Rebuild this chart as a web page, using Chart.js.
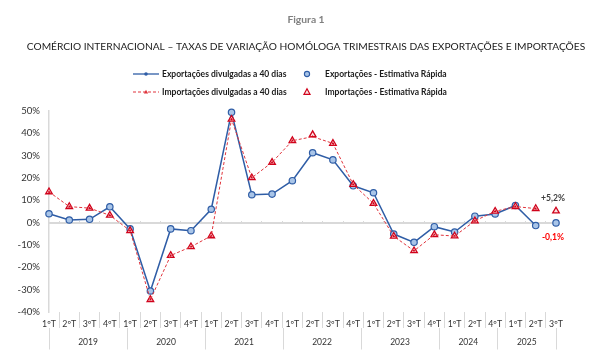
<!DOCTYPE html>
<html><head><meta charset="utf-8">
<script src="https://cdn.jsdelivr.net/npm/chart.js@4.4.1/dist/chart.umd.min.js"></script>
<style>html,body{margin:0;padding:0;background:#fff}#wrap{width:612px;height:356px;position:relative}</style>
</head><body><div id="wrap"><canvas id="c"></canvas></div>
<script>
const quarters = ['1ºT','2ºT','3ºT','4ºT','1ºT','2ºT','3ºT','4ºT','1ºT','2ºT','3ºT','4ºT','1ºT','2ºT','3ºT','4ºT','1ºT','2ºT','3ºT','4ºT','1ºT','2ºT','4ºT','1ºT','2ºT','3ºT'];
const years = ['2019','2020','2021','2022','2023','2024','2025'];
const quartersPerYear = [4,4,4,4,4,3,3];
const yTicks = [-40,-30,-20,-10,0,10,20,30,40,50];

const exports40 = [4.0,1.2,1.5,7.1, -2.8,-30.6,-2.8,-3.6, 6.0,49.4,12.5,12.8, 18.8,31.3,28.1,16.5, 13.4,-5.1,-8.8,-1.8, -4.2,2.9,3.9, 7.7,-1.3,null];
const exportsER = [4.0,1.2,1.5,7.1, -2.8,-30.6,-2.8,-3.6, 6.0,49.4,12.5,12.8, 18.8,31.3,28.1,16.5, 13.4,-5.1,-8.8,-1.8, -4.2,2.9,3.9, 7.7,-1.3,-0.1];
const imports40 = [13.8,7.2,6.5,3.3, -3.6,-34.5,-14.7,-10.8, -5.9,46.3,20.1,27.0, 36.7,38.5,35.5,17.1, 8.6,-6.1,-12.6,-5.4, -6.0,0.8,5.1, 7.2,6.3,null];
const importsER = [13.8,7.2,6.5,3.3, -3.6,-34.5,-14.7,-10.8, -5.9,46.3,20.1,27.0, 36.7,39.4,35.5,17.1, 8.6,-6.1,-12.6,-5.4, -6.0,0.8,5.1, 7.2,6.3,5.2];

const BLUE = '#2f5da6', BLUE_FILL = '#a9c5e8', RED = '#e0343c', RED_DARK = '#d0021b', RED_FILL = '#fbe0e0', GRID = '#d9d9d9';
const FONT = 'Lato, "Open Sans", sans-serif';
Chart.defaults.font.family = FONT;
Chart.defaults.color = '#333';

// year group boundaries & centres for the second axis
const yearTicks = [];
let b = -0.5;
yearTicks.push({value: b});
quartersPerYear.forEach((n, i) => {
  yearTicks.push({value: b + n / 2, year: years[i]});
  b += n;
  yearTicks.push({value: b});
});

function fmt(v) { return (v > 0 ? '+' : '') + v.toFixed(1).replace('.', ',') + '%'; }

const legendPlugin = {
  id: 'legend2',
  afterDraw(chart) {
    const ctx = chart.ctx, ds = chart.data.datasets;
    ctx.save();
    ctx.font = 'bold 8.5px ' + FONT;
    ctx.textBaseline = 'middle';
    const rows = [74, 92];
    // row 1 : exports
    let y = rows[0];
    ctx.strokeStyle = BLUE; ctx.lineWidth = 1.3; ctx.setLineDash([]);
    ctx.beginPath(); ctx.moveTo(133, y); ctx.lineTo(159, y); ctx.stroke();
    ctx.fillStyle = BLUE; ctx.beginPath(); ctx.arc(146, y, 1.8, 0, Math.PI * 2); ctx.fill();
    ctx.fillStyle = '#1a1a1a'; ctx.fillText(ds[0].label, 162, y);
    ctx.fillStyle = BLUE_FILL; ctx.strokeStyle = BLUE; ctx.lineWidth = 1.1;
    ctx.beginPath(); ctx.arc(307, y, 2.6, 0, Math.PI * 2); ctx.fill(); ctx.stroke();
    ctx.fillStyle = '#1a1a1a'; ctx.fillText(ds[1].label, 325, y);
    // row 2 : imports
    y = rows[1];
    ctx.strokeStyle = RED; ctx.lineWidth = 1; ctx.setLineDash([3, 2]);
    ctx.beginPath(); ctx.moveTo(133, y); ctx.lineTo(159, y); ctx.stroke();
    ctx.setLineDash([]);
    ctx.fillStyle = RED;
    ctx.beginPath(); ctx.moveTo(146, y - 2.2); ctx.lineTo(148.1, y + 1.6); ctx.lineTo(143.9, y + 1.6); ctx.closePath(); ctx.fill();
    ctx.fillStyle = '#1a1a1a'; ctx.fillText(ds[2].label, 162, y);
    ctx.fillStyle = RED_FILL; ctx.strokeStyle = RED_DARK; ctx.lineWidth = 1.2;
    ctx.beginPath(); ctx.moveTo(307, y - 3.2); ctx.lineTo(310, y + 2.3); ctx.lineTo(304, y + 2.3); ctx.closePath(); ctx.fill(); ctx.stroke();
    ctx.fillStyle = '#1a1a1a'; ctx.fillText(ds[3].label, 325, y);
    ctx.restore();
  }
};

const lastLabelPlugin = {
  id: 'lastLabels',
  afterDatasetsDraw(chart) {
    const ctx = chart.ctx, xs = chart.scales.x, ys = chart.scales.y;
    const i = quarters.length - 1;
    ctx.save();
    ctx.font = 'bold 8.6px ' + FONT;
    ctx.textAlign = 'center'; ctx.textBaseline = 'middle';
    const px = xs.getPixelForValue(i);
    ctx.fillStyle = '#404040';
    ctx.fillText(fmt(importsER[i]), px - 3, ys.getPixelForValue(importsER[i]) - 13);
    ctx.fillStyle = '#ff0000';
    ctx.fillText(fmt(exportsER[i]), px - 3, ys.getPixelForValue(exportsER[i]) + 14);
    ctx.restore();
  }
};

new Chart(document.getElementById('c'), {
  type: 'line',
  data: {
    labels: quarters,
    datasets: [
      { label: 'Exportações divulgadas a 40 dias', data: exports40, order: 3, clip: false,
        borderColor: BLUE, backgroundColor: BLUE, borderWidth: 1.5, pointRadius: 1.8, pointBorderWidth: 0,
        pointBackgroundColor: BLUE, tension: 0, spanGaps: false },
      { label: 'Exportações - Estimativa Rápida', data: exportsER, order: 2, showLine: false, clip: false,
        pointStyle: 'circle', pointRadius: 3.2, pointBorderWidth: 1.2, pointBorderColor: BLUE, pointBackgroundColor: BLUE_FILL,
        borderColor: BLUE, backgroundColor: BLUE_FILL },
      { label: 'Importações divulgadas a 40 dias', data: imports40, order: 0, clip: false,
        borderColor: RED, backgroundColor: RED, borderWidth: 1, borderDash: [3, 2], pointStyle: 'triangle',
        pointRadius: 1.6, pointBorderWidth: 0, pointBackgroundColor: RED_DARK, tension: 0 },
      { label: 'Importações - Estimativa Rápida', data: importsER, order: 1, showLine: false, clip: false,
        pointStyle: 'triangle', pointRadius: 3.8, pointBorderWidth: 1.3, pointBorderColor: RED_DARK, pointBackgroundColor: RED_FILL,
        borderColor: RED_DARK, backgroundColor: RED_FILL }
    ]
  },
  options: {
    responsive: true, maintainAspectRatio: false, animation: false,
    layout: { padding: { left: 0, right: 0, top: 0, bottom: 6 } },
    plugins: {
      legend: { display: false },
      tooltip: { enabled: false },
      title: { display: true, text: 'Figura 1', color: '#7f7f7f', font: { size: 10.3, weight: 'bold', lineHeight: 1.2 }, padding: { top: 13.8, bottom: 0 } },
      subtitle: { display: true, text: 'COMÉRCIO INTERNACIONAL – TAXAS DE VARIAÇÃO HOMÓLOGA TRIMESTRAIS DAS EXPORTAÇÕES E IMPORTAÇÕES',
        color: '#1a1a1a', font: { size: 10.2, lineHeight: 1.2 }, padding: { top: 14.4, bottom: 58.2 } }
    },
    scales: {
      y: {
        min: -40, max: 50,
        afterBuildTicks: (s) => { s.ticks = yTicks.map(v => ({ value: v })); },
        afterFit: (s) => { s.width = 49; },
        ticks: { callback: (v) => v + '%', font: { size: 9.6 }, color: '#333', padding: 9 },
        grid: { display: true, drawOnChartArea: false, drawTicks: false },
        border: { display: true, color: GRID, width: 1.5 }
      },
      yr: {
        type: 'linear', position: 'right', min: -40, max: 50,
        afterFit: (s) => { s.width = 56; },
        ticks: { display: false },
        grid: { display: false, drawOnChartArea: false, drawTicks: false },
        border: { display: false }
      },
      x: {
        type: 'category', position: 'bottom',
        afterFit: (s) => { s.height = 16; },
        ticks: { autoSkip: false, maxRotation: 0, minRotation: 0, font: { size: 8.8 }, color: '#333', padding: -9.2 },
        grid: { display: true, drawOnChartArea: false, offset: true, tickLength: 16, color: GRID, lineWidth: 1 },
        border: { display: false }
      },
      x2: {
        type: 'linear', position: 'bottom', min: -0.5, max: quarters.length - 0.5,
        afterBuildTicks: (s) => { s.ticks = yearTicks.map(t => Object.assign({}, t)); },
        afterFit: (s) => { s.height = 22; },
        ticks: { autoSkip: false, maxRotation: 0, minRotation: 0, font: { size: 8.5 }, color: '#333', padding: -12.5,
          callback: (v, i, t) => t[i].year || '' },
        grid: { display: true, drawOnChartArea: false, tickLength: 21.5, lineWidth: 1,
          color: (c) => (c.tick && c.tick.year) ? 'rgba(0,0,0,0)' : GRID },
        border: { display: false }
      },
      x0: {
        type: 'category', position: { y: 0 },
        ticks: { display: false },
        grid: { display: true, drawOnChartArea: false, offset: true, tickLength: -3, color: GRID, lineWidth: 1 },
        border: { display: true, color: GRID, width: 2 }
      }
    }
  },
  plugins: [legendPlugin, lastLabelPlugin]
});
</script>
</body></html>
